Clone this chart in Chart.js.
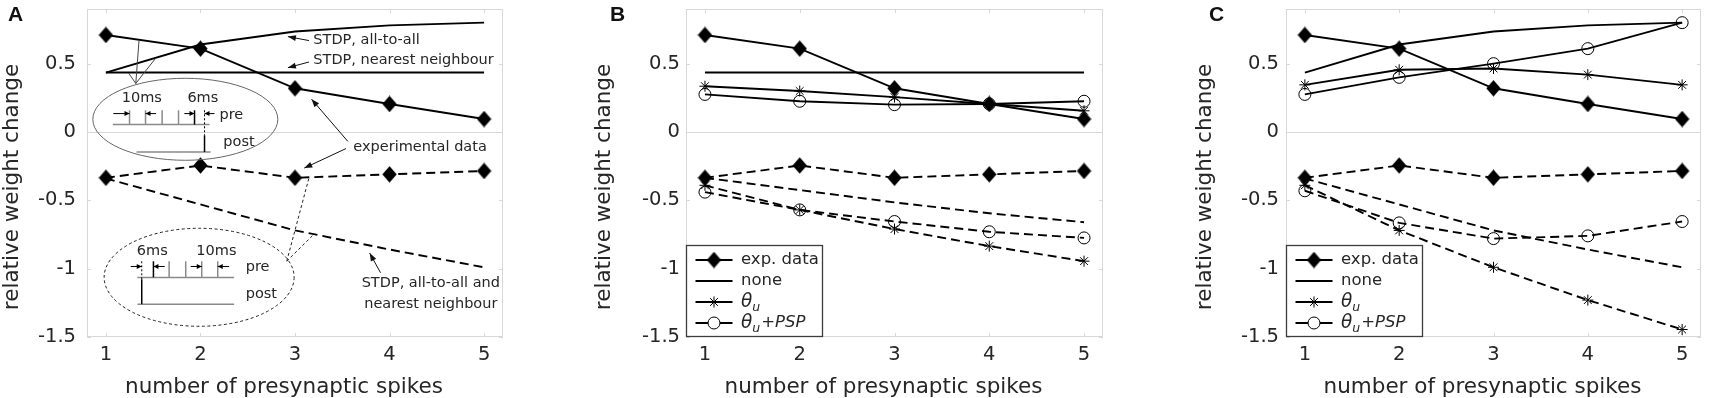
<!DOCTYPE html>
<html><head><meta charset="utf-8">
<script src="https://cdn.jsdelivr.net/npm/chart.js@4.4.1/dist/chart.umd.min.js"></script>
<style>
html,body{margin:0;padding:0;background:#fff;width:1710px;height:398px;overflow:hidden}
canvas{position:absolute;top:0}
</style></head><body>
<canvas id="cA" width="512" height="398" style="left:0px"></canvas>
<canvas id="cB" width="542" height="398" style="left:570px"></canvas>
<canvas id="cC" width="540" height="398" style="left:1170px"></canvas>
<script>
// ---------- data ----------
const spikes = [1, 2, 3, 4, 5];
const xTicks = [1, 2, 3, 4, 5];
const yTicks = [-1.5, -1, -0.5, 0, 0.5];
const expPot = [0.71, 0.61, 0.32, 0.205, 0.095];
const expDep = [-0.335, -0.245, -0.335, -0.31, -0.285];
// panel A
const stdpAllPot = [0.435, 0.64, 0.735, 0.78, 0.80];
const stdpNNPot = [0.435, 0.435, 0.435, 0.435, 0.435];
const stdpDep = [-0.34, -0.53, -0.72, -0.86, -0.99];
// panel B
const bNonePot = [0.435, 0.435, 0.435, 0.435, 0.435];
const bNoneDep = [-0.335, -0.425, -0.515, -0.595, -0.66];
const bThetaPot = [0.335, 0.30, 0.255, 0.205, 0.155];
const bThetaDep = [-0.39, -0.57, -0.71, -0.835, -0.945];
const bPspPot = [0.275, 0.225, 0.20, 0.205, 0.225];
const bPspDep = [-0.44, -0.57, -0.655, -0.73, -0.775];
// panel C
const cNonePot = [0.435, 0.64, 0.735, 0.78, 0.80];
const cNoneDep = [-0.34, -0.53, -0.72, -0.86, -0.99];
const cThetaPot = [0.345, 0.455, 0.465, 0.42, 0.345];
const cThetaDep = [-0.39, -0.72, -0.99, -1.23, -1.445];
const cPspPot = [0.275, 0.40, 0.50, 0.61, 0.80];
const cPspDep = [-0.43, -0.665, -0.78, -0.76, -0.655];
const legendLabels = ['exp. data', 'none', 'θu', 'θu+PSP'];
const xTitle = 'number of presynaptic spikes';
const yTitle = 'relative weight change';

// ---------- styling ----------
const FAM = "'DejaVu Sans', sans-serif";
const W = 'normal';
const INK = '#262626';
Chart.defaults.font.family = FAM;

const diamond = (() => {
  const c = document.createElement('canvas'); c.width = 15; c.height = 17;
  const g = c.getContext('2d'); g.fillStyle = '#000';
  g.beginPath(); g.moveTo(7.5, 0.3); g.lineTo(14.7, 8.5); g.lineTo(7.5, 16.7); g.lineTo(0.3, 8.5); g.closePath(); g.fill();
  return c;
})();

const MARK = {
  diamond: {pointStyle: diamond, pointRadius: 8},
  star: {pointStyle: 'star', pointRadius: 5.5},
  circle: {pointStyle: 'circle', pointRadius: 6},
  none: {pointStyle: 'circle', pointRadius: 0}
};

function series(values, dashed, mark) {
  const m = MARK[mark];
  return {
    data: spikes.map((x, i) => ({x: x, y: values[i]})),
    borderColor: '#000', borderWidth: 1.9, borderDash: dashed ? [9, 5] : [],
    tension: 0, fill: false,
    pointStyle: m.pointStyle, pointRadius: m.pointRadius, pointHoverRadius: m.pointRadius,
    pointBackgroundColor: mark === 'circle' ? 'rgba(0,0,0,0)' : '#000',
    pointBorderColor: '#000', pointBorderWidth: 1
  };
}

function arrow(ctx, x1, y1, x2, y2, len, hw) {
  ctx.beginPath(); ctx.moveTo(x1, y1); ctx.lineTo(x2, y2); ctx.stroke();
  const a = Math.atan2(y2 - y1, x2 - x1);
  ctx.beginPath(); ctx.moveTo(x2, y2);
  ctx.lineTo(x2 - len * Math.cos(a) + hw * Math.sin(a), y2 - len * Math.sin(a) - hw * Math.cos(a));
  ctx.lineTo(x2 - len * Math.cos(a) - hw * Math.sin(a), y2 - len * Math.sin(a) + hw * Math.cos(a));
  ctx.closePath(); ctx.fill();
}
function seg(ctx, x1, y1, x2, y2) { ctx.beginPath(); ctx.moveTo(x1, y1); ctx.lineTo(x2, y2); ctx.stroke(); }

function drawThetaLabel(ctx, label, x, y, size) {
  if (label.indexOf('θu') !== 0) {
    ctx.font = `${W} ${size}px ${FAM}`; ctx.fillText(label, x, y); return;
  }
  ctx.font = `italic ${W} ${size + 2}px ${FAM}`;
  ctx.fillText('θ', x, y); x += ctx.measureText('θ').width;
  ctx.font = `italic ${W} ${size - 4}px ${FAM}`;
  ctx.fillText('u', x, y + 6); x += ctx.measureText('u').width + 1;
  const rest = label.slice(2);
  if (rest) { ctx.font = `italic ${W} ${size}px ${FAM}`; ctx.fillText(rest, x, y); }
}

function drawLegend(ctx, a) {
  const bw = 137, bh = 92, bx = a.left, by = a.bottom - bh;
  ctx.save();
  ctx.fillStyle = '#fff'; ctx.fillRect(bx, by, bw, bh);
  ctx.strokeStyle = '#3c3c3c'; ctx.lineWidth = 1.3; ctx.strokeRect(bx + 0.5, by + 0.5, bw - 1, bh - 1);
  const rows = [['diamond', -77], ['none', -56], ['star', -35], ['circle', -14]];
  rows.forEach((r, i) => {
    const y = a.bottom + r[1];
    ctx.strokeStyle = '#000'; ctx.lineWidth = 1.9; ctx.setLineDash([]);
    seg(ctx, bx + 9.5, y, bx + 46.5, y);
    if (r[0] !== 'none') {
      const m = MARK[r[0]];
      ctx.fillStyle = r[0] === 'circle' ? '#fff' : '#000';
      ctx.strokeStyle = '#000'; ctx.lineWidth = 1;
      Chart.helpers.drawPoint(ctx, {pointStyle: m.pointStyle, radius: m.pointRadius, borderWidth: 1, rotation: 0}, bx + 28, y);
    }
    ctx.fillStyle = INK; ctx.textAlign = 'left'; ctx.textBaseline = 'middle';
    drawThetaLabel(ctx, legendLabels[i], bx + 55, y, 16.5);
  });
  ctx.restore();
}

function drawAnnotA(chart) {
  const {ctx} = chart;
  const P = (x, y) => [chart.scales.x.getPixelForValue(x), chart.scales.y.getPixelForValue(y)];
  ctx.save();
  ctx.fillStyle = INK; ctx.strokeStyle = '#111';
  ctx.font = `${W} 14.5px ${FAM}`; ctx.textBaseline = 'middle'; ctx.textAlign = 'left';
  const texts = [['STDP, all-to-all', 3.194, 0.669], ['STDP, nearest neighbour', 3.194, 0.526],
    ['experimental data', 3.617, -0.112], ['STDP, all-to-all and', 3.705, -1.105], ['nearest neighbour', 3.732, -1.259]];
  texts.forEach(t => { const p = P(t[1], t[2]); ctx.fillText(t[0], p[0], p[1]); });
  ctx.lineWidth = 1; ctx.fillStyle = '#111';
  const arrows = [[3.148, 0.669, 2.925, 0.698], [3.148, 0.512, 2.925, 0.471], [3.559, -0.069, 3.175, 0.240],
    [3.54, -0.121, 3.098, -0.264], [3.905, -1.03, 3.79, -0.886]];
  arrows.forEach(r => { const p = P(r[0], r[1]), q = P(r[2], r[3]); arrow(ctx, p[0], p[1], q[0], q[1], 8, 3); });

  // solid inset
  ctx.strokeStyle = '#444'; ctx.lineWidth = 1;
  const ap = P(1.316, 0.355);
  [[1.35, 0.669], [1.524, 0.538], [1.24, 0.431]].forEach(t => { const q = P(t[0], t[1]); seg(ctx, ap[0], ap[1], q[0], q[1]); });
  let [cx, cy] = P(1.84, 0.093);
  ctx.strokeStyle = '#666';
  ctx.beginPath(); ctx.ellipse(cx, cy, 92.5, 41, 0, 0, 2 * Math.PI); ctx.stroke();
  ctx.strokeStyle = '#8a8a8a'; ctx.lineWidth = 1.5;
  seg(ctx, cx - 72.5, cy + 5.3, cx + 24.2, cy + 5.3);
  [-55.8, -39.8, -23.2, -6.8].forEach(d => seg(ctx, cx + d, cy - 9, cx + d, cy + 5.3));
  seg(ctx, cx - 48.8, cy + 32.7, cx + 25.2, cy + 32.7);
  ctx.strokeStyle = '#000';
  seg(ctx, cx + 9.2, cy - 9, cx + 9.2, cy + 5.3);
  seg(ctx, cx + 19.2, cy + 16, cx + 19.2, cy + 32.7);
  ctx.lineWidth = 1; ctx.setLineDash([2, 2]);
  seg(ctx, cx + 19.2, cy - 9, cx + 19.2, cy + 16);
  ctx.setLineDash([]); ctx.fillStyle = '#000';
  [[-72, -55.8], [-29.2, -39.8], [-1, 9.2], [29.2, 19.2]].forEach(r => arrow(ctx, cx + r[0], cy - 5.7, cx + r[1], cy - 5.7, 5, 2.5));
  ctx.fillStyle = INK; ctx.textAlign = 'center';
  ctx.fillText('10ms', cx - 43.5, cy - 21); ctx.fillText('6ms', cx + 17.5, cy - 21);
  ctx.textAlign = 'left';
  ctx.fillText('pre', cx + 34.2, cy - 4); ctx.fillText('post', cx + 38, cy + 22.7);

  // dashed inset
  ctx.strokeStyle = '#222'; ctx.lineWidth = 1; ctx.setLineDash([3, 2.5]);
  const dp = P(2.913, -0.945);
  [[3.15, -0.33], [3.19, -0.755]].forEach(t => { const q = P(t[0], t[1]); seg(ctx, dp[0], dp[1], q[0], q[1]); });
  [cx, cy] = P(1.986, -1.063);
  ctx.beginPath(); ctx.ellipse(cx, cy, 95, 49, 0, 0, 2 * Math.PI); ctx.stroke();
  ctx.setLineDash([]);
  ctx.strokeStyle = '#8a8a8a'; ctx.lineWidth = 1.5;
  seg(ctx, cx - 61.7, cy + 0.2, cx + 35, cy + 0.2);
  [-30, -13.4, 2.6, 18.6].forEach(d => seg(ctx, cx + d, cy - 16, cx + d, cy));
  seg(ctx, cx - 61.7, cy + 26.9, cx + 35, cy + 26.9);
  ctx.strokeStyle = '#000';
  seg(ctx, cx - 45.7, cy - 16, cx - 45.7, cy);
  seg(ctx, cx - 57.4, cy + 2, cx - 57.4, cy + 26.9);
  ctx.lineWidth = 1; ctx.setLineDash([2, 2]);
  seg(ctx, cx - 57.4, cy - 16, cx - 57.4, cy + 2);
  ctx.setLineDash([]); ctx.fillStyle = '#000';
  [[-68.4, -57.4], [-34.4, -45.7], [-8.4, 2.6], [30, 18.6]].forEach(r => arrow(ctx, cx + r[0], cy - 10.8, cx + r[1], cy - 10.8, 5, 2.5));
  ctx.fillStyle = INK; ctx.textAlign = 'center';
  ctx.fillText('6ms', cx - 46.9, cy - 26.5); ctx.fillText('10ms', cx + 17.3, cy - 26.5);
  ctx.textAlign = 'left';
  ctx.fillText('pre', cx + 46.6, cy - 9.8); ctx.fillText('post', cx + 46.6, cy + 17.2);
  ctx.restore();
}

const deco = {
  id: 'deco',
  beforeDatasetsDraw(chart) {
    const {ctx, chartArea: a, scales} = chart;
    ctx.save();
    ctx.strokeStyle = '#d8d8d8'; ctx.lineWidth = 1;
    ctx.strokeRect(a.left + 0.5, a.top + 0.5, a.right - a.left - 1, a.bottom - a.top - 1);
    const L = 4;
    ctx.beginPath();
    xTicks.forEach(v => { const x = Math.round(scales.x.getPixelForValue(v)) + 0.5;
      ctx.moveTo(x, a.top); ctx.lineTo(x, a.top + L); ctx.moveTo(x, a.bottom); ctx.lineTo(x, a.bottom - L); });
    yTicks.forEach(v => { const y = Math.round(scales.y.getPixelForValue(v)) + 0.5;
      ctx.moveTo(a.left, y); ctx.lineTo(a.left + L, y); ctx.moveTo(a.right, y); ctx.lineTo(a.right - L, y); });
    ctx.stroke();
    ctx.restore();
  },
  afterDraw(chart) {
    const o = chart.options.plugins.deco;
    const {ctx, chartArea: a} = chart;
    ctx.save();
    ctx.fillStyle = '#111';
    ctx.font = `bold 21px 'Liberation Sans', Arial, sans-serif`;
    ctx.textAlign = 'left'; ctx.textBaseline = 'middle';
    ctx.fillText(o.letter, o.letterX, 15);
    ctx.fillStyle = INK;
    ctx.font = `${W} 21.5px ${FAM}`; ctx.textAlign = 'center';
    ctx.fillText(xTitle, (a.left + a.right) / 2 - 11, 387);
    ctx.save(); ctx.translate(o.yTitleX, 187); ctx.rotate(-Math.PI / 2);
    ctx.fillText(yTitle, 0, 0); ctx.restore();
    ctx.restore();
    if (o.legend) drawLegend(ctx, a);
    if (o.annot) drawAnnotA(chart);
  }
};

function makeChart(id, datasets, p) {
  new Chart(document.getElementById(id), {
    type: 'line',
    data: {datasets: datasets},
    options: {
      responsive: false, animation: false, devicePixelRatio: 1,
      layout: {padding: {left: 0, right: p.padRight, top: 2, bottom: 0}},
      plugins: {legend: {display: false}, tooltip: {enabled: false}, deco: p},
      scales: {
        x: {
          type: 'linear', min: 0.8, max: 5.2,
          afterBuildTicks: s => { s.ticks = xTicks.map(v => ({value: v})); },
          afterFit: s => { s.height = 61; s.paddingLeft = 0; s.paddingRight = 0; s.paddingTop = 0; s.paddingBottom = 0; },
          grid: {display: false, drawTicks: false}, border: {display: false},
          ticks: {padding: 6, color: INK, font: {size: 19.5, weight: W}, callback: v => String(v), maxRotation: 0}
        },
        y: {
          type: 'linear', min: -1.5, max: 0.9,
          afterBuildTicks: s => { s.ticks = yTicks.map(v => ({value: v})); },
          afterFit: s => { s.width = p.axisW; s.paddingTop = 0; s.paddingBottom = 0; s.paddingLeft = 0; s.paddingRight = 0; },
          grid: {drawTicks: false, color: c => (c.tick && c.tick.value === 0) ? '#d8d8d8' : 'rgba(0,0,0,0)', lineWidth: 1},
          border: {display: false},
          ticks: {padding: p.tickPad, color: INK, font: {size: 19.5, weight: W}, callback: v => String(v)}
        }
      }
    },
    plugins: [deco]
  });
}

makeChart('cA', [
  series(expPot, false, 'diamond'), series(expDep, true, 'diamond'),
  series(stdpAllPot, false, 'none'), series(stdpNNPot, false, 'none'), series(stdpDep, true, 'none')
], {letter: 'A', letterX: 8, yTitleX: 12, axisW: 87, padRight: 2, tickPad: 11, annot: true});

makeChart('cB', [
  series(expPot, false, 'diamond'), series(expDep, true, 'diamond'),
  series(bNonePot, false, 'none'), series(bNoneDep, true, 'none'),
  series(bThetaPot, false, 'star'), series(bThetaDep, true, 'star'),
  series(bPspPot, false, 'circle'), series(bPspDep, true, 'circle')
], {letter: 'B', letterX: 40, yTitleX: 34, axisW: 116, padRight: 2, tickPad: 6, legend: true});

makeChart('cC', [
  series(expPot, false, 'diamond'), series(expDep, true, 'diamond'),
  series(cNonePot, false, 'none'), series(cNoneDep, true, 'none'),
  series(cThetaPot, false, 'star'), series(cThetaDep, true, 'star'),
  series(cPspPot, false, 'circle'), series(cPspDep, true, 'circle')
], {letter: 'C', letterX: 39, yTitleX: 35, axisW: 116, padRight: 2, tickPad: 7, legend: true});
</script>
</body></html>
